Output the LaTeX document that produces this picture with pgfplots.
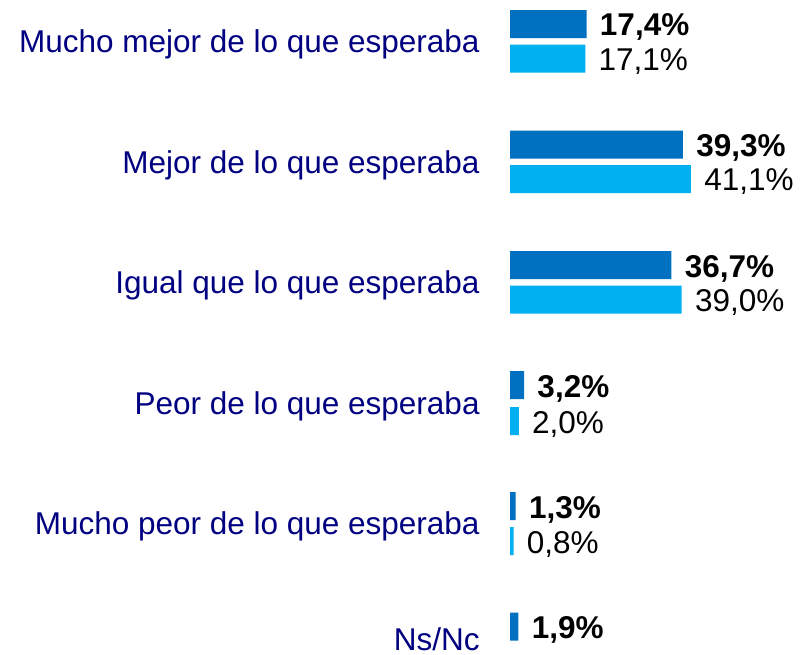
\documentclass[border=0pt]{standalone}
\usepackage{pgfplots}
\pgfplotsset{compat=1.18}
\usepackage{fontspec}
\setmainfont{Liberation Sans}
\definecolor{darkbar}{HTML}{0070C0}
\definecolor{lightbar}{HTML}{00B0F0}
\definecolor{catlabel}{HTML}{000080}
\newcommand{\lblfont}{\fontsize{15.75}{18}\selectfont}
\tikzset{cat/.style={anchor=east, font=\lblfont, text=catlabel, inner sep=0pt, text depth=0pt}}

% y positions in pixel units of the reference (top = 0)
\pgfplotstableread{
y x
24 17.4
144.5 39.3
265 36.7
385 3.2
506 1.3
626.5 1.9
}\darkdata
\pgfplotstableread{
y x
58.5 17.1
179 41.1
299.5 39.0
421 2.0
541 0.8
}\lightdata

\begin{document}
\begin{tikzpicture}
\begin{axis}[
  scale only axis,
  width=400pt, height=327pt,
  xmin=-115.91, xmax=65.91,
  ymin=0, ymax=654,
  y dir=reverse,
  hide axis,
  clip=false,
  xbar,
  bar width=14pt,
  bar shift=0pt,
  point meta=x,
  nodes near coords={\pgfmathprintnumber[fixed,fixed zerofill,precision=1,use comma,assume math mode=true]{\pgfplotspointmeta}\%},
  every node near coord/.append style={anchor=west, inner sep=0pt, xshift=6.5pt, yshift=-0.5pt, text depth=0pt, font=\lblfont, color=black},
]
\addplot[fill=darkbar, draw=none, nodes near coords style={font=\lblfont\bfseries}] table[x=x, y=y] {\darkdata};
\addplot[fill=lightbar, draw=none] table[x=x, y=y] {\lightdata};

\node[cat] at (axis cs:-6.82,41) {Mucho mejor de lo que esperaba};
\node[cat] at (axis cs:-6.82,162) {Mejor de lo que esperaba};
\node[cat] at (axis cs:-6.82,282) {Igual que lo que esperaba};
\node[cat] at (axis cs:-6.82,403) {Peor de lo que esperaba};
\node[cat] at (axis cs:-6.82,523.5) {Mucho peor de lo que esperaba};
\node[cat, anchor=base east] at (axis cs:-6.82,650) {Ns/Nc};
\end{axis}
\pgfresetboundingbox
\useasboundingbox (current axis.south west) rectangle (current axis.north east);
\end{tikzpicture}
\end{document}
